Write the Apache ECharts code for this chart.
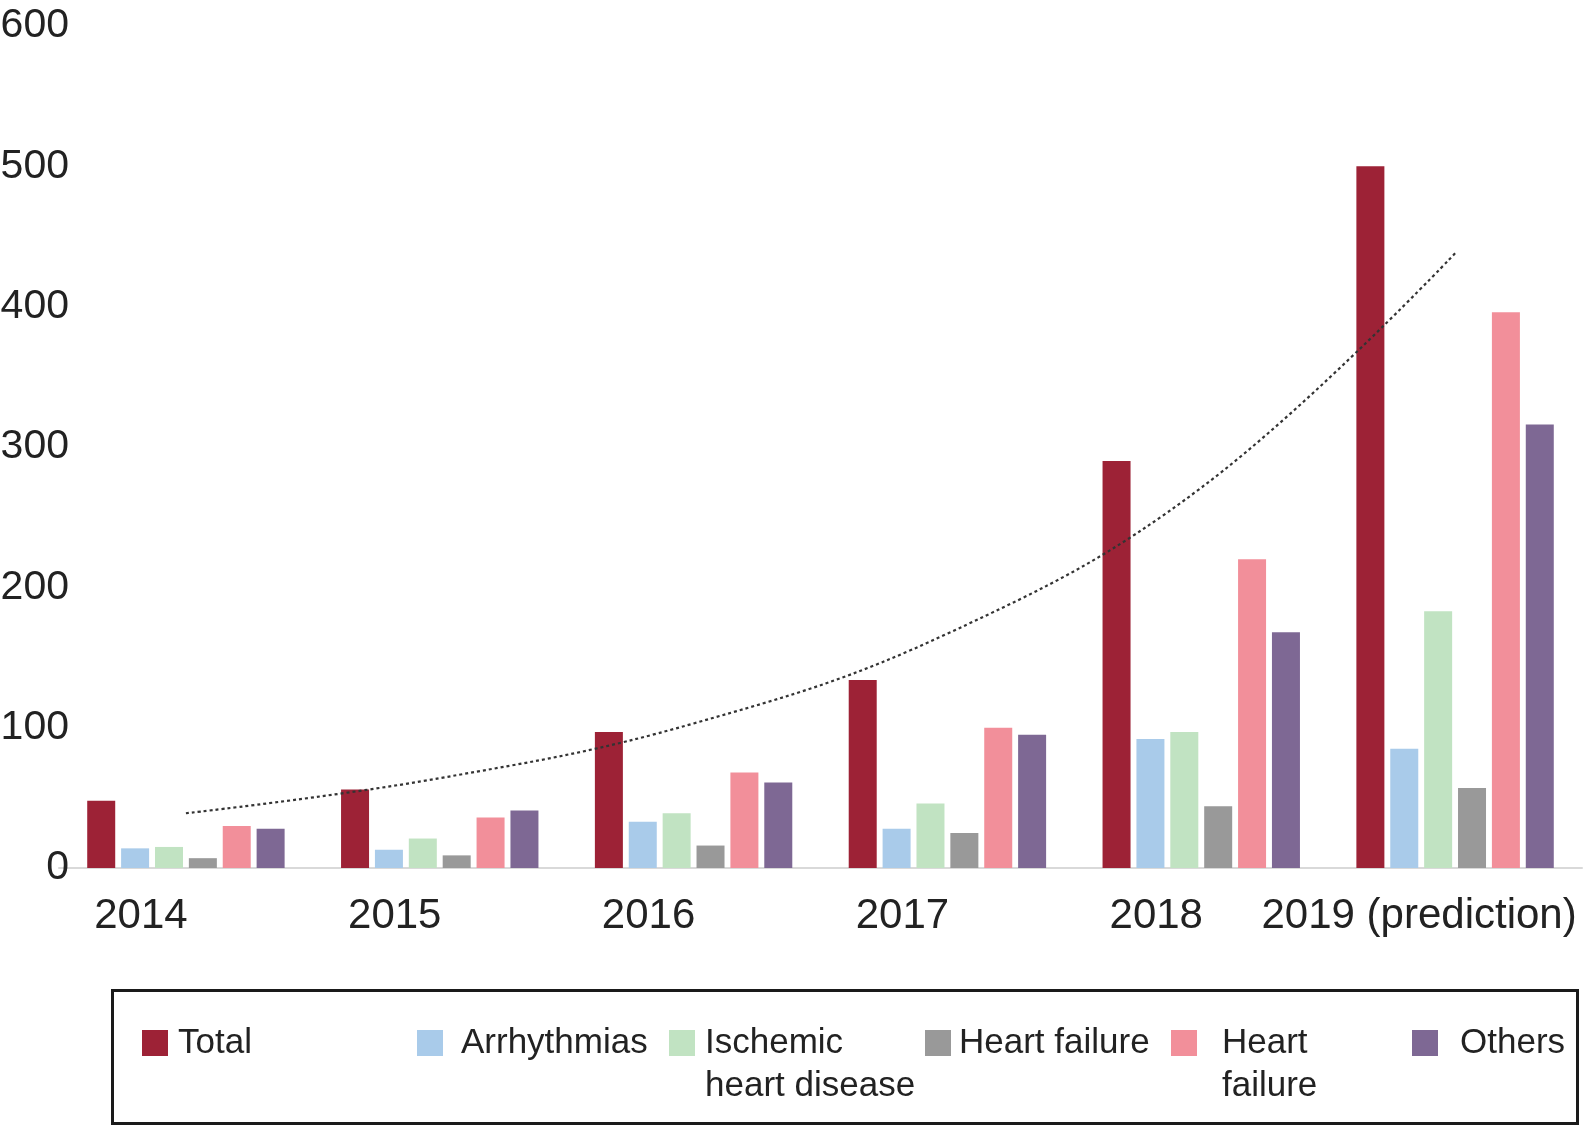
<!DOCTYPE html>
<html>
<head>
<meta charset="utf-8">
<script src="https://cdn.jsdelivr.net/npm/echarts@6/dist/echarts.min.js"></script>
<style>
html,body{margin:0;padding:0;background:#fff;}
#chart{width:1589px;height:1125px;}
</style>
</head>
<body>
<div id="chart"></div>
<script>
// ---- data ----
var years = ['2014', '2015', '2016', '2017', '2018', '2019 (prediction)'];
var yTicks = [0, 100, 200, 300, 400, 500, 600];
var seriesNames = ['Total', 'Arrhythmias', 'Ischemic heart disease', 'Heart failure', 'Heart failure (2)', 'Others'];
var legendLabels = ['Total', 'Arrhythmias', 'Ischemic\nheart disease', 'Heart failure', 'Heart\nfailure', 'Others'];
var total        = [48, 56, 97, 134, 290, 500];
var arrhythmias  = [14, 13, 33, 28, 92, 85];
var ischemic     = [15, 21, 39, 46, 97, 183];
var heartFailure = [7, 9, 16, 25, 44, 57];
var heartFailure2= [30, 36, 68, 100, 220, 396];
var others       = [28, 41, 61, 95, 168, 316];
var trend        = [39, 64, 103, 167, 271, 438];

var colors = ['#9d2236', '#a9cbea', '#c1e3c2', '#999999', '#f28f9a', '#7e6894'];
var seriesData = [total, arrhythmias, ischemic, heartFailure, heartFailure2, others];

var FONT = "'Liberation Sans', Arial, Helvetica, sans-serif";

var chart = echarts.init(document.getElementById('chart'), null, {renderer: 'canvas'});

var series = seriesNames.map(function (n, i) {
  return {
    name: n,
    type: 'bar',
    data: seriesData[i],
    barWidth: 28,
    barGap: '21%',
    itemStyle: {color: colors[i]},
    emphasis: {disabled: true}
  };
});
series.push({
  name: 'trend',
  type: 'line',
  data: trend,
  smooth: 0.4,
  symbol: 'none',
  lineStyle: {color: '#333', width: 2.2, type: [3, 3]},
  z: 5,
  silent: true
});

// legend placement
var legendLeft = [142, 417, 669, 925, 1171, 1412];
var legendPadLeft = [5, 13, 5, 3, 20, 17];
var iconCenter = 1043;
var LH = 43;
var legends = seriesNames.map(function (n, i) {
  var twoLine = legendLabels[i].indexOf('\n') >= 0;
  return {
    data: [n],
    left: legendLeft[i],
    top: twoLine ? iconCenter - 1.5 * LH : iconCenter - LH / 2,
    padding: 0,
    orient: 'horizontal',
    icon: 'rect',
    itemWidth: 26,
    itemHeight: 26,
    selectedMode: false,
    formatter: function () { return (twoLine ? '\n' : '') + legendLabels[i]; },
    textStyle: {
      fontFamily: FONT,
      fontSize: 35,
      color: '#222',
      lineHeight: LH,
      padding: [0, 0, 0, legendPadLeft[i]]
    }
  };
});

var xData = years.map(function (y, i) {
  return {value: y, textStyle: {padding: [0, i === years.length - 1 ? 72 : 90, 0, 0]}};
});

var option = {
  animation: false,
  backgroundColor: '#fff',
  grid: {left: 59, right: 7, top: 26, bottom: 1125 - 868, containLabel: false, outerBoundsMode: 'none'},
  xAxis: {
    type: 'category',
    data: xData,
    axisLine: {show: true, lineStyle: {color: '#d9d9d9', width: 2}},
    axisTick: {show: false},
    axisLabel: {
      fontFamily: FONT,
      fontSize: 42,
      color: '#222',
      margin: 27,
      interval: 0
    }
  },
  yAxis: {
    type: 'value',
    min: yTicks[0],
    max: yTicks[yTicks.length - 1],
    interval: 100,
    axisLine: {show: false},
    axisTick: {show: false},
    splitLine: {show: false},
    axisLabel: {
      fontFamily: FONT,
      fontSize: 41,
      color: '#222',
      margin: -10,
      padding: [0, 0, 9, 0]
    }
  },
  legend: legends,
  graphic: [{
    type: 'rect',
    left: 110,
    top: 988,
    shape: {width: 1465, height: 133},
    style: {fill: 'none', stroke: '#1a1a1a', lineWidth: 3},
    z: -1
  }],
  series: series
};
chart.setOption(option);
</script>
</body>
</html>
